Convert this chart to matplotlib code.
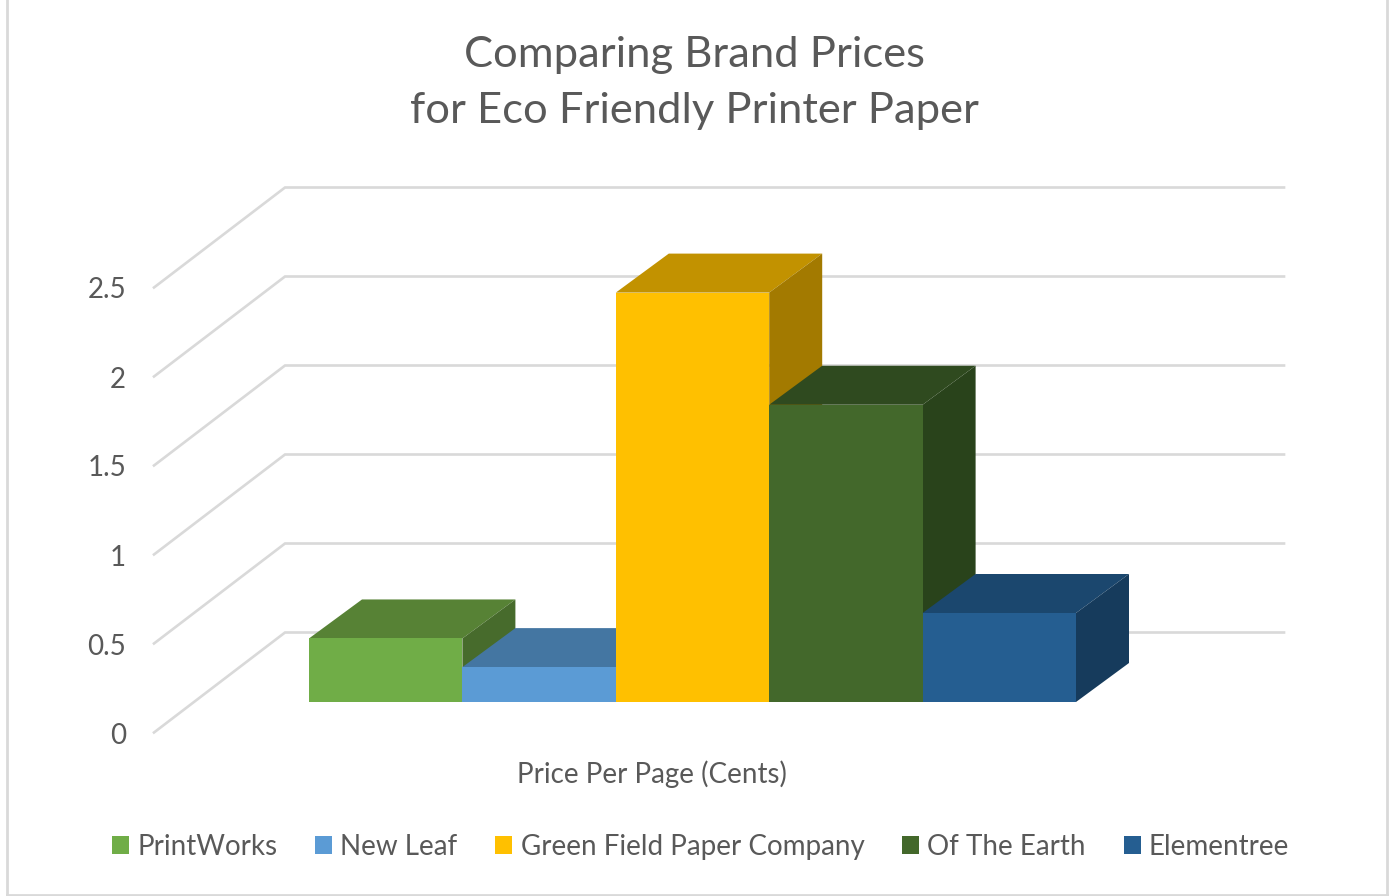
import matplotlib
matplotlib.use("Agg")
import matplotlib.pyplot as plt
from matplotlib.patches import Patch, Polygon, Rectangle

brands = ["PrintWorks", "New Leaf", "Green Field Paper Company", "Of The Earth", "Elementree"]
prices = [0.357, 0.196, 2.30, 1.67, 0.50]
front_colors = ["#70AD47", "#5B9BD5", "#FFC000", "#43682B", "#255E91"]
top_colors = ["#578235", "#4476A2", "#C29200", "#2F4A1F", "#1B476E"]
side_colors = ["#476B2C", "#386287", "#A37A00", "#29431B", "#163B5C"]
y_ticks = [0, 0.5, 1, 1.5, 2, 2.5]
y_tick_labels = ["0", "0.5", "1", "1.5", "2", "2.5"]

W, H = 1390, 896
TEXT = "#595959"
GRID = "#D9D9D9"
plt.rcParams["font.family"] = ["Lato", "DejaVu Sans"]

# one x unit = one bar (153.4 px), one y unit = 1 cent (178 px)
PX_X = 153.4
PX_Y = 178.0
X0 = 309
Y0 = 702

fig = plt.figure(figsize=(W / 100, H / 100), dpi=100)
ax = fig.add_axes([0, 0, 1, 1])
ax.set_xlim(-X0 / PX_X, (W - X0) / PX_X)
ax.set_ylim((Y0 - H) / PX_Y, Y0 / PX_Y)
ax.axis("off")


def px(x, y):
    return (x - X0) / PX_X, (Y0 - y) / PX_Y


# walls: front corner of the floor, then offset to the back wall
wall_x, wall_y = px(154, 732.5)
wall_dx = 131 / PX_X
wall_dy = 100 / PX_Y
right_x = px(1284, 0)[0]
label_shift = 3 / PX_Y
for t, lab in zip(y_ticks, y_tick_labels):
    ax.plot([wall_x, wall_x + wall_dx, right_x],
            [wall_y + t, wall_y + t + wall_dy, wall_y + t + wall_dy],
            color=GRID, lw=1.9, solid_joinstyle="miter", zorder=1)
    ax.text(px(126, 0)[0], wall_y + t - label_shift, lab, ha="right", va="center",
            fontsize=20, color=TEXT)

# bars, drawn left to right so each one covers the side of the previous one
bar_dx = 53 / PX_X
bar_dy = 39 / PX_Y
for i, val in enumerate(prices):
    ax.add_patch(Polygon([(i, val), (i + 1, val), (i + 1 + bar_dx, val + bar_dy), (i + bar_dx, val + bar_dy)],
                         fc=top_colors[i], ec="none", zorder=2 + i))
    ax.add_patch(Polygon([(i + 1, 0), (i + 1 + bar_dx, bar_dy), (i + 1 + bar_dx, val + bar_dy), (i + 1, val)],
                         fc=side_colors[i], ec="none", zorder=2 + i))
    ax.add_patch(Rectangle((i, 0), 1, val, fc=front_colors[i], ec="none", zorder=2 + i))

tx, ty = px(694, 54.5)
ax.text(tx, ty, "Comparing Brand Prices", ha="center", va="center", fontsize=31.3, color=TEXT)
tx, ty = px(694, 111.5)
ax.text(tx, ty, "for Eco Friendly Printer Paper", ha="center", va="center", fontsize=31.3, color=TEXT)

tx, ty = px(652, 774)
ax.text(tx, ty, "Price Per Page (Cents)", ha="center", va="center", fontsize=20, color=TEXT)

handles = [Patch(fc=c, ec="none") for c in front_colors]
leg = ax.legend(handles, brands, ncol=5, frameon=False, fontsize=20, labelcolor=TEXT,
                loc="center", bbox_to_anchor=(700.5 / W, 1 - 847 / H),
                handlelength=0.62, handleheight=0.62, handletextpad=0.29, columnspacing=1.36,
                borderpad=0, borderaxespad=0)

# outer frame, no top edge in the original
for a, b in [((6.5, 0), (6.5, 895)), ((6.5, 895), (1387, 895)), ((1387, 895), (1387, 0))]:
    p, q = px(*a), px(*b)
    ax.plot([p[0], q[0]], [p[1], q[1]], color="#D9D9D9", lw=2, zorder=1, solid_capstyle="projecting")

fig.savefig("out.png", dpi=100)
